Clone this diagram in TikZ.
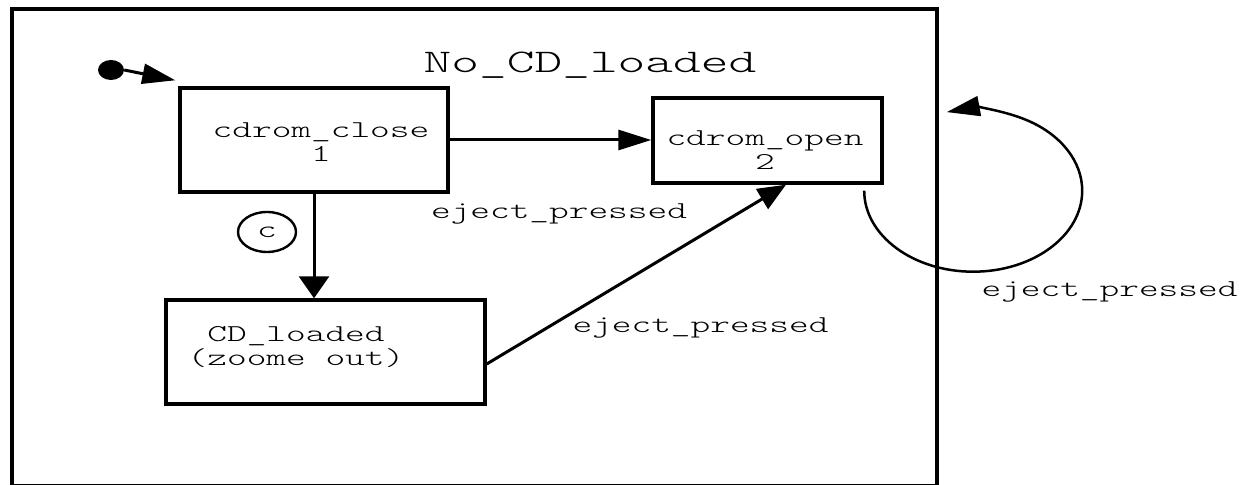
\documentclass[tikz,border=0pt]{standalone}
\usepackage{fontspec}
\usetikzlibrary{arrows.meta,shapes.geometric}
\newfontfamily\diamono[FakeStretch=1.55]{lmmonolt10-regular.otf}
\newfontfamily\diatitle[FakeStretch=1.6]{lmmonolt10-regular.otf}

\begin{document}
\begin{tikzpicture}[x=1pt,y=1pt,
  stbox/.style={draw, line width=3.4pt, rectangle, inner sep=0pt},
  txt/.style={font=\diamono\fontsize{24.2}{24}\selectfont, inner sep=0pt, align=center},
  lbl/.style={font=\diamono\fontsize{24.2}{24}\selectfont, inner sep=0pt, anchor=base},
  ttl/.style={font=\diatitle\fontsize{33}{36}\selectfont, inner sep=0pt, anchor=base},
  tr/.style={line width=3pt},
  hhead/.style={-{Triangle[length=33pt,width=20pt]}},
  vhead/.style={-{Triangle[length=22pt,width=30pt]}},
  dhead/.style={-{Triangle[length=28pt,width=23pt]}},
]
\useasboundingbox (0,0) rectangle (1246,484);
\fill[white] (0,0) rectangle (1246,484);

% superstate frame
\node[stbox, minimum width=925pt, minimum height=477pt] (frame) at (474.5,236.5) {};
\node[ttl] (title) at (590,411) {No\_CD\_loaded};

% initial pseudo state
\node[fill, ellipse, minimum width=26pt, minimum height=20pt, inner sep=0pt] (init) at (111,414) {};

% states
\node[stbox, minimum width=268pt, minimum height=104pt] (close) at (314,344) {};
\node[txt] (closet) at (321,341.5) {cdrom\_close\\1};
\node[stbox, minimum width=229pt, minimum height=85pt] (open) at (767.5,343.5) {};
\node[txt] (opent) at (765,334) {cdrom\_open\\2};
\node[stbox, minimum width=319pt, minimum height=104pt] (cd) at (325.5,132) {};
\node[txt] (cdt) at (296,137.3) {CD\_loaded\\(zoome out)};

% condition marker
\node[draw, ellipse, line width=2.4pt, minimum width=58pt, minimum height=40pt, inner sep=0pt,
      font=\diamono\fontsize{24.2}{24}\selectfont] (cond) at (267,252) {c};

% transitions
\draw[tr, hhead] (init.east) -- ([shift={(-3,6)}]close.north west);
\draw[tr, hhead] (close.east) -- (close.east -| open.west);
\draw[tr, vhead] (close.south) -- (close.south |- cd.north);
\draw[tr, dhead] ([yshift=-12]cd.east) -- ([xshift=18.5]open.south);
\draw[line width=2.5pt, hhead] ([xshift=-19.5,yshift=-6]open.south east)
  arc[start angle=180, end angle=464, x radius=109, y radius=81];

% labels
\node[lbl] (l1) at (559,265) {eject\_pressed};
\node[lbl] (l2) at (700.5,151) {eject\_pressed};
\node[lbl] (l3) at (1109.5,187) {eject\_pressed};
\end{tikzpicture}
\end{document}
